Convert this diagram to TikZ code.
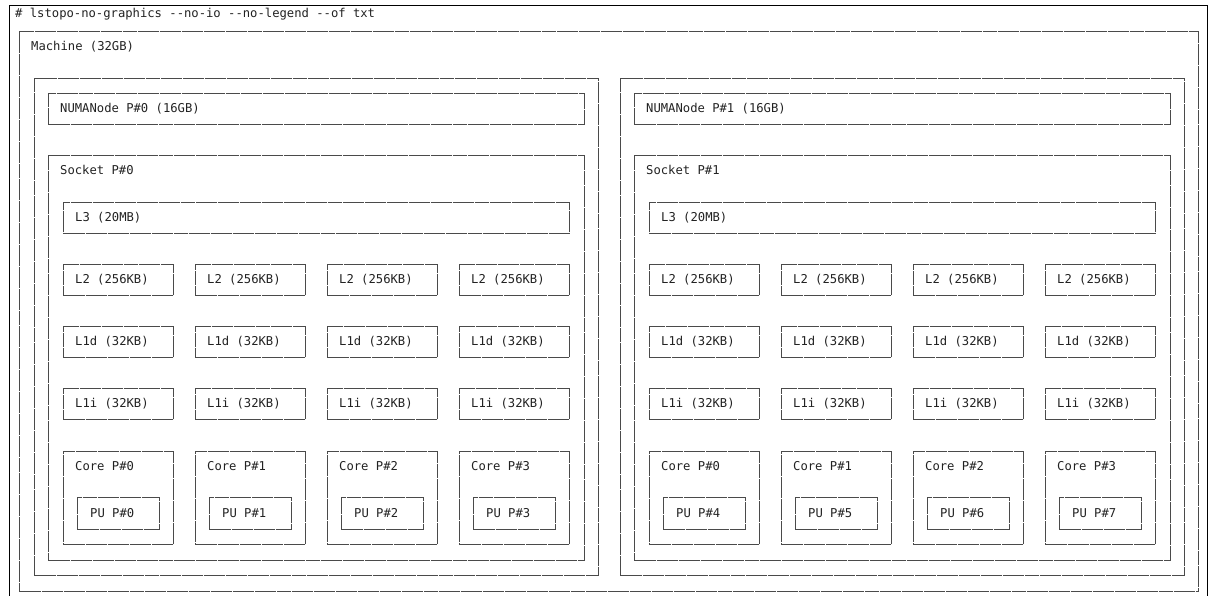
\documentclass[tikz,border=0pt]{standalone}
\usepackage{fontspec}
\setmonofont{DejaVu Sans Mono}
\definecolor{boxline}{HTML}{4A4A4A}
\definecolor{txt}{HTML}{222222}
\begin{document}
\begin{tikzpicture}[x=1pt,y=-1pt,
  box/.style={draw=boxline,line width=1.1pt,dash pattern=on 7pt off 0.35pt,inner sep=0pt,rectangle,anchor=north west},
  lbl/.style={anchor=base west,inner sep=0pt,text=txt,font=\ttfamily\fontsize{12.2}{14}\selectfont}]
\useasboundingbox (0,0) rectangle (1210,595);
% terminal frame
\coordinate (fa) at (9,600);
\coordinate (fb) at (9,5);
\coordinate (fc) at (1207,5);
\coordinate (fd) at (1207,600);
\draw[black,line width=1pt] (fa) -- (fb) -- (fc) -- (fd);
\node[lbl] (cmd) at (15,17.4) {\# lstopo-no-graphics --no-io --no-legend --of txt};
% machine
\node[box,minimum width=1179pt,minimum height=560pt] (m) at (19,31) {};
\node[lbl] (mlbl) at (31,50.4) {Machine (32GB)};
\foreach \s/\dx in {0/0,1/586}{
  \node[box,minimum width=564pt,minimum height=497pt] (g\s) at (34+\dx,78) {};
  \node[box,minimum width=536pt,minimum height=31pt] (n\s) at (48+\dx,93) {};
  \node[lbl] (n\s lbl) at (60+\dx,112.6) {NUMANode P\#\s\ (16GB)};
  \node[box,minimum width=536pt,minimum height=405pt] (s\s) at (48+\dx,155) {};
  \node[lbl] (s\s lbl) at (60+\dx,174.4) {Socket P\#\s};
  \node[box,minimum width=506pt,minimum height=31pt] (l3\s) at (63+\dx,202) {};
  \node[lbl] (l3\s lbl) at (75+\dx,221.6) {L3 (20MB)};
  \foreach \c in {0,1,2,3}{
    \pgfmathsetmacro{\xo}{63+\dx+132*\c}
    \pgfmathtruncatemacro{\core}{\c}
    \pgfmathtruncatemacro{\pu}{4*\s+\c}
    \node[box,minimum width=110pt,minimum height=31pt] (l2\s\c) at (\xo,264) {};
    \node[lbl] (l2\s\c lbl) at (\xo+12,283.6) {L2 (256KB)};
    \node[box,minimum width=110pt,minimum height=31pt] (l1d\s\c) at (\xo,326) {};
    \node[lbl] (l1d\s\c lbl) at (\xo+12,345.6) {L1d (32KB)};
    \node[box,minimum width=110pt,minimum height=31pt] (l1i\s\c) at (\xo,388) {};
    \node[lbl] (l1i\s\c lbl) at (\xo+12,407.6) {L1i (32KB)};
    \node[box,minimum width=110pt,minimum height=93pt] (c\s\c) at (\xo,451) {};
    \node[lbl] (c\s\c lbl) at (\xo+12,470.4) {Core P\#\core};
    \node[box,minimum width=82pt,minimum height=32pt] (p\s\c) at (\xo+14,497) {};
    \node[lbl] (p\s\c lbl) at (\xo+27,517.2) {PU P\#\pu};
  }
}
\end{tikzpicture}
\end{document}
